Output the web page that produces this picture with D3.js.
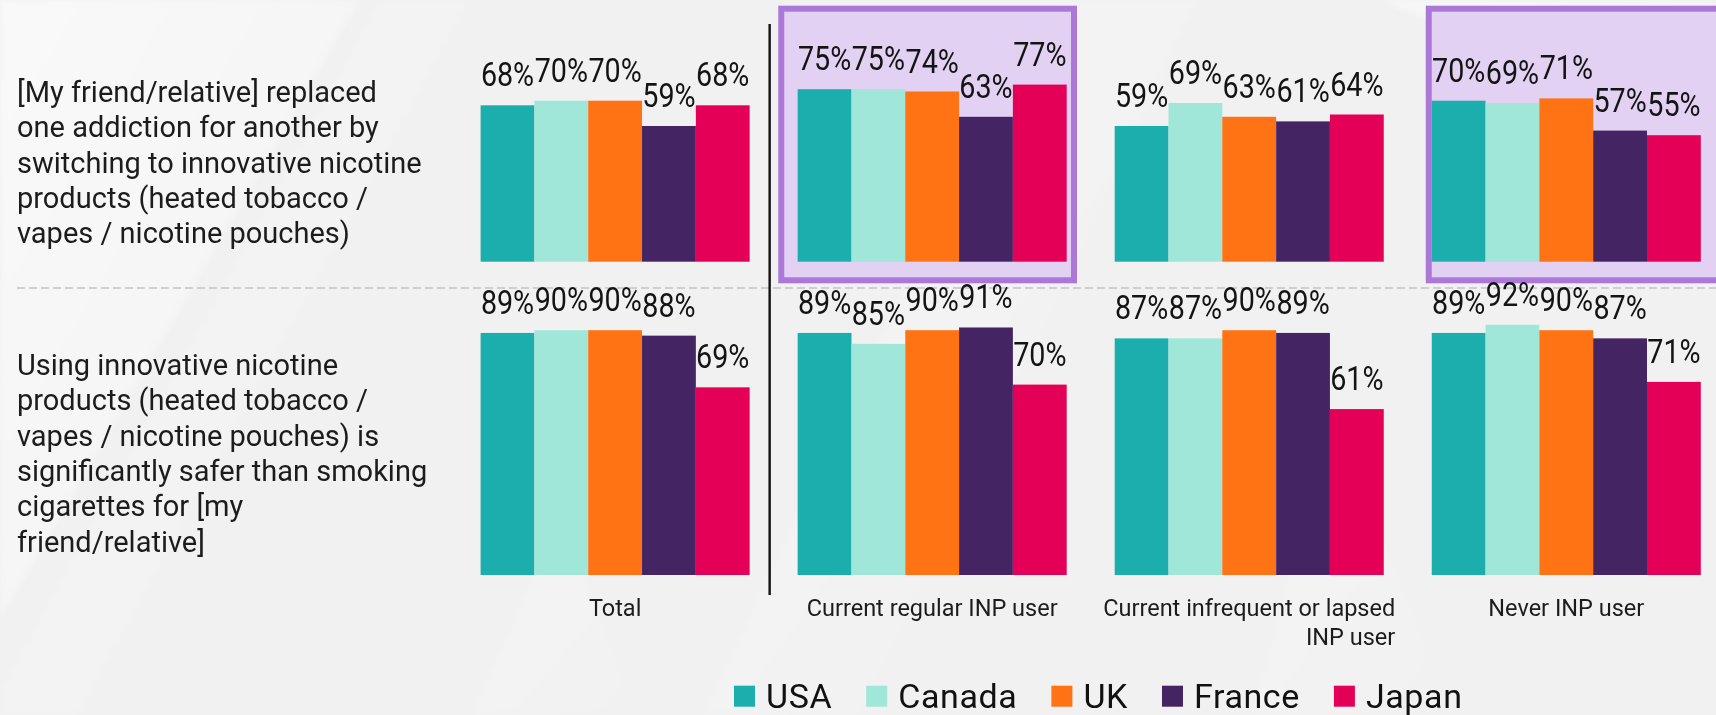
<!DOCTYPE html>
<html>
<head>
<meta charset="utf-8">
<script src="https://cdn.jsdelivr.net/npm/d3@7"></script>
<style>
  html, body { margin: 0; padding: 0; background: #f1f1f2; overflow: hidden; }
  svg { display: block; font-family: Roboto, "Liberation Sans", Arial, sans-serif; }
</style>
</head>
<body>
<svg id="chart" width="1716" height="715"></svg>
<script>
// Countries (series) and their colours
const countries = ["USA", "Canada", "UK", "France", "Japan"];
const countryColors = ["#1CAEAD", "#A0E6D9", "#FF7315", "#452463", "#E50057"];

// Respondent segments (x categories)
const segments = ["Total", "Current regular INP user", "Current infrequent or lapsed INP user", "Never INP user"];
const segmentLabelLines = [
  ["Total"],
  ["Current regular INP user"],
  ["Current infrequent or lapsed", "INP user"],
  ["Never INP user"]
];
const highlightedSegments = ["Current regular INP user", "Never INP user"];

// Statements (rows)
const statementLines = [
  ["[My friend/relative] replaced", "one addiction for another by", "switching to innovative nicotine", "products (heated tobacco /", "vapes / nicotine pouches)"],
  ["Using innovative nicotine", "products (heated tobacco /", "vapes / nicotine pouches) is", "significantly safer than smoking", "cigarettes for [my", "friend/relative]"]
];

// % agreeing, per segment, in country order
const replacedValues = [
  [68, 70, 70, 59, 68],
  [75, 75, 74, 63, 77],
  [59, 69, 63, 61, 64],
  [70, 69, 71, 57, 55]
];
const saferValues = [
  [89, 90, 90, 88, 69],
  [89, 85, 90, 91, 70],
  [87, 87, 90, 89, 61],
  [89, 92, 90, 87, 71]
];

const W = 1716, H = 715;
const svg = d3.select("#chart");

// ---- soft decorative background ----
const defs = svg.append("defs");
const sheen = defs.append("linearGradient").attr("id", "sheen")
  .attr("x1", "0").attr("y1", "0").attr("x2", "1").attr("y2", "1");
sheen.append("stop").attr("offset", "0%").attr("stop-color", "#ffffff").attr("stop-opacity", 0.85);
sheen.append("stop").attr("offset", "100%").attr("stop-color", "#ffffff").attr("stop-opacity", 0.1);
defs.append("filter").attr("id", "soft").append("feGaussianBlur").attr("stdDeviation", 3);

svg.append("rect").attr("width", W).attr("height", H).attr("fill", "#f1f1f2");
const bg = svg.append("g").attr("filter", "url(#soft)");
const bgShapes = [
  [[0, 0], [360, 0], [0, 620]],
  [[380, 0], [470, 0], [80, 715], [0, 715], [0, 690]],
  [[1040, 0], [1200, 0], [860, 715], [700, 715]],
  [[1380, 0], [1716, 0], [1716, 140]],
  [[470, 715], [560, 520], [640, 715]],
  [[1250, 715], [1330, 420], [1460, 715]]
];
const bgOpacity = [0.7, 0.35, 0.3, 0.55, 0.35, 0.3];
bg.selectAll("polygon").data(bgShapes).join("polygon")
  .attr("points", d => d.map(p => p.join(",")).join(" "))
  .attr("fill", "url(#sheen)")
  .attr("opacity", (d, i) => bgOpacity[i]);

// ---- scales ----
const x = d3.scaleBand().domain(segments).range([480.6, 1700.8]).paddingInner(0.1514).paddingOuter(0);
const xc = d3.scaleBand().domain(countries).range([0, x.bandwidth()]).padding(0);
const color = d3.scaleOrdinal().domain(countries).range(countryColors);

const rows = [
  { values: replacedValues, y: d3.scaleLinear().domain([0, 100]).range([261.7, 31.7]) },
  { values: saferValues, y: d3.scaleLinear().domain([0, 100]).range([575, 303]) }
];

// ---- highlight boxes behind selected segments ----
const boxPad = { "Current regular INP user": [19.4, 10.3], "Never INP user": [6, 30] };
const boxTop = 5.7, boxBottom = 283.3, boxStroke = 6;
svg.append("g").selectAll("rect").data(highlightedSegments).join("rect")
  .attr("x", d => x(d) - boxPad[d][0] + boxStroke / 2)
  .attr("y", boxTop + boxStroke / 2)
  .attr("width", d => x.bandwidth() + boxPad[d][0] + boxPad[d][1] - boxStroke)
  .attr("height", boxBottom - boxTop - boxStroke)
  .attr("fill", "#E3D1F3")
  .attr("stroke", "#AB78D8")
  .attr("stroke-width", boxStroke);

// ---- row separator and Total divider ----
svg.append("line")
  .attr("x1", 17).attr("x2", W).attr("y1", 288).attr("y2", 288)
  .attr("stroke", "#cfcfcf").attr("stroke-width", 2).attr("stroke-dasharray", "8 4");
svg.append("line")
  .attr("x1", x("Total") + x.bandwidth() + 20).attr("x2", x("Total") + x.bandwidth() + 20)
  .attr("y1", 24).attr("y2", 595)
  .attr("stroke", "#111").attr("stroke-width", 2.4);

// ---- bars and value labels ----
rows.forEach(row => {
  const g = svg.append("g");
  const groups = g.selectAll("g.seg").data(segments).join("g")
    .attr("class", "seg")
    .attr("transform", d => `translate(${x(d)},0)`);
  const cells = (seg, si) => countries.map((c, ci) => ({ country: c, value: row.values[si][ci] }));
  groups.selectAll("rect").data(cells).join("rect")
    .attr("x", d => xc(d.country))
    .attr("y", d => row.y(d.value))
    .attr("width", xc.bandwidth())
    .attr("height", d => row.y(0) - row.y(d.value))
    .attr("fill", d => color(d.country));
  // labels use a slightly narrowed face so that neighbours just touch
  groups.selectAll("text").data(cells).join("text")
    .attr("transform", d => `translate(${xc(d.country) + xc.bandwidth() / 2},${row.y(d.value) - 19}) scale(0.87,1)`)
    .attr("text-anchor", "middle")
    .attr("font-size", 33)
    .attr("fill", "#141414")
    .text(d => d.value + "%");
});

// ---- statement labels ----
const stmtBase = [102, 375];
const stmtStep = 35.3;
statementLines.forEach((lines, i) => {
  svg.append("text")
    .attr("x", 17).attr("y", stmtBase[i])
    .attr("font-size", 29).attr("fill", "#1c1c1c")
    .selectAll("tspan").data(lines).join("tspan")
    .attr("x", 17)
    .attr("dy", (d, j) => j === 0 ? 0 : stmtStep)
    .text(d => d);
});

// ---- segment (x axis) labels ----
const segLabels = svg.append("g");
segments.forEach((s, i) => {
  const cx = x(s) + x.bandwidth() / 2;
  const lines = segmentLabelLines[i];
  const first = segLabels.append("text")
    .attr("x", cx).attr("y", 616)
    .attr("text-anchor", "middle")
    .attr("font-size", 23.5).attr("fill", "#1c1c1c")
    .text(lines[0]);
  if (lines.length > 1) {
    const w = first.node().getComputedTextLength();
    segLabels.append("text")
      .attr("x", cx + w / 2).attr("y", 645)
      .attr("text-anchor", "end")
      .attr("font-size", 23.5).attr("fill", "#1c1c1c")
      .text(lines[1]);
  }
});

// ---- legend ----
const legend = svg.append("g");
let lx = 734;
countries.forEach(c => {
  legend.append("rect")
    .attr("x", lx).attr("y", 685.7).attr("width", 21).attr("height", 21)
    .attr("fill", color(c));
  const t = legend.append("text")
    .attr("x", lx + 32).attr("y", 708.3)
    .attr("font-size", 34).attr("letter-spacing", 0.6).attr("fill", "#111")
    .text(c);
  lx += 32 + t.node().getComputedTextLength() + 34;
});
</script>
</body>
</html>
